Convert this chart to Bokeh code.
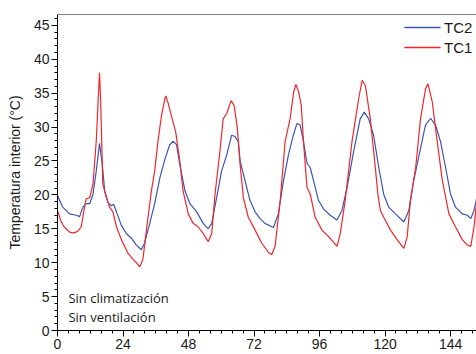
from bokeh.plotting import figure
from bokeh.models import (ColumnDataSource, Range1d, SingleIntervalTicker, Span,
                          Legend, LegendItem, Label, BoxAnnotation)
from bokeh.embed import file_html
from bokeh.resources import INLINE

# ---- data ----
tc1_hours = [0, 1.2, 2.2, 3.2, 4.4, 5.6, 6.8, 7.8, 8.7, 9.6, 10.5, 11.8, 13.0, 14.2, 14.9, 15.4,
             15.8, 16.6, 17.9, 19.1, 20.3, 21.6, 23.4, 25.8, 27.7, 28.9, 30.1, 31.3, 32.6, 34.4,
             35.6, 36.8, 38.1, 39.3, 39.7, 40.5, 41.8, 43.3, 44.8, 46.0, 47.9, 49.7, 51.5, 53.4,
             55.2, 56.5, 57.7, 59.5, 60.7, 62.0, 62.6, 63.6, 64.7, 65.9, 66.9, 68.1, 69.9, 72.4,
             74.8, 77.3, 78.5, 79.7, 81.6, 83.4, 85.2, 86.5, 87.3, 88.3, 89.3, 90.1, 91.4, 92.6,
             94.4, 96.9, 99.9, 102.4, 103.6, 105.4, 107.9, 110.3, 111.6, 112.8, 114.6, 116.2,
             117.4, 118.3, 119.5, 122.0, 124.4, 126.9, 128.1, 129.3, 131.2, 133.0, 134.8, 135.7,
             137.3, 139.1, 141.0, 143.4, 145.8, 148.3, 150.1, 151.4, 152.6, 153.6]
tc1_temp = [17.7, 16.2, 15.4, 15.0, 14.5, 14.4, 14.5, 14.8, 15.3, 17.5, 19.4, 19.6, 21.6, 27.9, 34.0, 38.0,
            34.0, 21.6, 19.6, 18.2, 17.5, 15.3, 13.4, 11.4, 10.5, 10.0, 9.4, 10.5, 14.9, 20.6,
            23.5, 27.9, 31.7, 34.1, 34.6, 33.6, 31.5, 29.3, 25.0, 20.6, 17.2, 15.8, 15.3, 14.3,
            13.1, 14.3, 20.1, 26.4, 31.2, 32.0, 32.7, 33.9, 33.2, 29.8, 24.5, 19.6, 16.7, 14.8,
            12.9, 11.5, 11.2, 12.4, 19.2, 27.9, 31.2, 35.1, 36.3, 35.3, 33.2, 27.9, 21.1, 20.1,
            16.7, 14.8, 13.6, 12.4, 14.3, 19.2, 27.9, 34.1, 36.9, 36.1, 31.2, 25.0,
            20.0, 17.7, 16.7, 14.8, 13.4, 12.1, 13.8, 19.2, 24.0, 31.2, 35.6, 36.4,
            33.7, 27.9, 22.1, 17.2, 15.3, 13.4, 12.6, 12.4, 15.3, 19.2]

tc2_hours = [0, 1.9, 4.4, 6.9, 8.1, 9.3, 10.5, 11.8, 13.0, 14.2, 15.4, 16.4, 17.3, 18.5, 19.7, 20.6,
             21.6, 23.4, 25.2, 27.1, 28.9, 30.7, 31.9, 33.8, 35.6, 37.5, 39.3, 41.1, 42.4, 43.6,
             44.8, 46.7, 48.5, 51.0, 53.4, 55.2, 56.5, 58.3, 60.1, 62.0, 63.8, 65.0, 66.2, 66.9,
             68.7, 70.5, 72.4, 74.2, 76.0, 79.1, 80.9, 82.8, 84.6, 86.4, 87.7, 88.9, 90.1, 91.4,
             92.6, 93.8, 95.6, 97.5, 99.9, 102.4, 104.2, 106.1, 108.5, 110.9, 112.4, 114.0, 115.8,
             117.7, 119.5, 121.3, 123.8, 126.9, 128.7, 130.5, 133.0, 134.8, 136.7, 138.5, 140.3,
             142.2, 144.0, 145.8, 148.3, 150.1, 151.4, 152.6, 153.6]
tc2_temp = [19.9, 18.2, 17.2, 17.0, 16.8, 18.2, 18.7, 18.7, 20.1, 23.5, 27.6, 24.5, 20.6, 18.9, 18.4, 18.6,
            17.5, 15.5, 14.3, 13.6, 12.6, 11.9, 12.9, 15.8, 18.7, 22.5, 25.2, 27.4, 27.9, 27.4,
            24.5, 20.6, 18.7, 17.5, 15.8, 15.0, 15.8, 19.6, 23.5, 25.9, 28.8, 28.6, 27.9, 25.0,
            22.1, 19.2, 17.5, 16.5, 15.8, 15.2, 17.2, 22.1, 25.9, 28.8, 30.5, 30.3, 27.9, 24.7,
            24.0, 22.1, 19.2, 17.9, 17.0, 16.3, 17.7, 21.1, 26.4, 31.2, 32.2, 31.2, 28.8,
            24.0, 20.1, 18.2, 17.2, 16.0, 17.7, 22.1, 26.9, 30.3, 31.3, 30.3, 27.9,
            24.0, 20.1, 18.2, 17.2, 17.0, 16.5, 17.7, 19.6]

x_ticks_interval = 24
y_ticks_interval = 5
series_names = ["TC2", "TC1"]
notes = ["Sin climatización", "Sin ventilación"]

RED = "#f0262b"
BLUE = "#3a56b4"
TXT = "#1a1a1a"
X_END, Y_END = 153.5, 46.6

W, H = 476, 354
B_LEFT, B_TOP, B_BOTTOM = 57, 14, 24
FRAME_W, FRAME_H = W - B_LEFT, H - B_TOP - B_BOTTOM

p = figure(width=W, height=H, output_backend="svg", toolbar_location=None,
           x_range=Range1d(0, X_END), y_range=Range1d(0, Y_END),
           min_border_left=B_LEFT, min_border_right=0, min_border_top=B_TOP,
           min_border_bottom=B_BOTTOM)
p.background_fill_color = "white"
p.border_fill_color = "white"
p.outline_line_color = None
p.xgrid.visible = False
p.ygrid.visible = False

src2 = ColumnDataSource(dict(x=tc2_hours, y=tc2_temp))
src1 = ColumnDataSource(dict(x=tc1_hours, y=tc1_temp))
r2 = p.line("x", "y", source=src2, line_color=BLUE, line_width=1.2)
r1 = p.line("x", "y", source=src1, line_color=RED, line_width=1.2)

for ax, interval, nminor in ((p.xaxis[0], x_ticks_interval, 6), (p.yaxis[0], y_ticks_interval, 5)):
    ax.ticker = SingleIntervalTicker(interval=interval, num_minor_ticks=nminor)
    ax.axis_line_color = "black"
    ax.major_tick_line_color = "black"
    ax.minor_tick_line_color = "black"
    ax.major_tick_in = 0
    ax.major_tick_out = 6
    ax.minor_tick_in = 0
    ax.minor_tick_out = 3
    ax.major_label_text_font = "Liberation Sans"
    ax.major_label_text_font_size = "14px"
    ax.major_label_text_color = TXT
    ax.major_label_standoff = 2

p.yaxis[0].axis_label = "Temperatura interior (°C)"
p.yaxis[0].axis_label_text_font = "Liberation Sans"
p.yaxis[0].axis_label_text_font_size = "14px"
p.yaxis[0].axis_label_text_font_style = "normal"
p.yaxis[0].axis_label_text_color = TXT
p.yaxis[0].axis_label_standoff = 8

p.add_layout(Span(location=Y_END, dimension="width", line_color="black", line_width=1))

# legend: labels from Legend, key lines drawn as thin boxes (SVG legend keys lose their colour)
LEG_X, LEG_TOP, ROW, KEY_W = 347, 3, 20, 36
legend = Legend(items=[LegendItem(label=series_names[0], renderers=[r2]),
                       LegendItem(label=series_names[1], renderers=[r1])],
                location=(LEG_X, FRAME_H - LEG_TOP - 2 * ROW), orientation="vertical",
                background_fill_alpha=0, border_line_color=None,
                label_text_font="Liberation Sans", label_text_font_size="15px",
                label_text_color=TXT, glyph_width=KEY_W, glyph_height=ROW,
                label_height=ROW, label_standoff=4, spacing=0, padding=0, margin=0)
p.add_layout(legend, "center")

px_x = X_END / FRAME_W
px_y = Y_END / FRAME_H
for i, col in enumerate([BLUE, RED]):
    yc = (FRAME_H - LEG_TOP - ROW * i - ROW / 2) * px_y
    p.add_layout(BoxAnnotation(left=LEG_X * px_x, right=(LEG_X + KEY_W) * px_x,
                               bottom=yc - 0.7 * px_y, top=yc + 0.7 * px_y,
                               fill_color=col, fill_alpha=1, line_color=None))

for i, t in enumerate(notes):
    p.add_layout(Label(x=4.0, y=4.86 - i * 2.9, text=t, text_font="Open Sans",
                       text_font_size="13px", text_color=TXT, text_baseline="alphabetic"))

open("out.html", "w").write(file_html(p, INLINE))
